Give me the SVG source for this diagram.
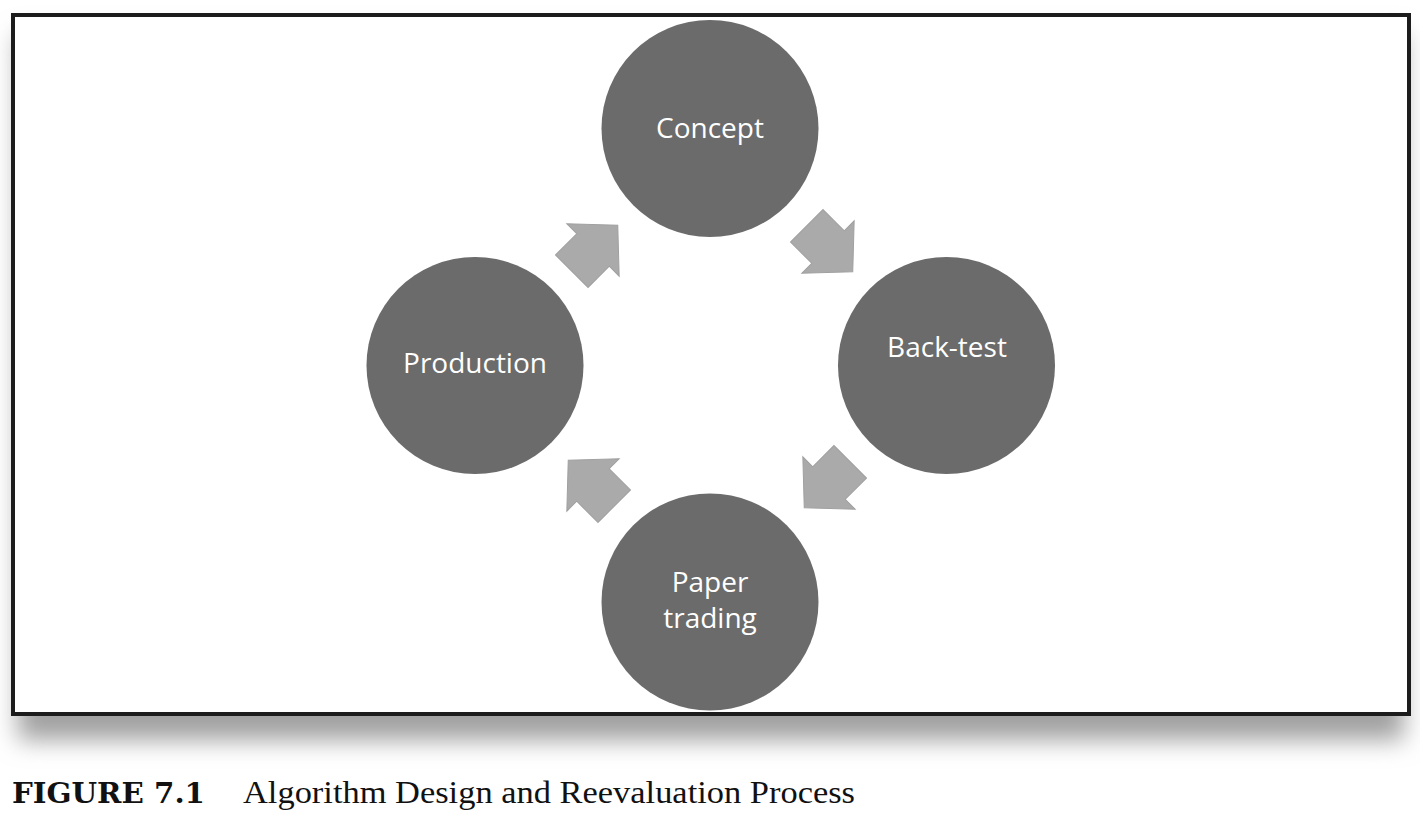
<svg xmlns="http://www.w3.org/2000/svg" width="1420" height="814" viewBox="0 0 1420 814">
  <defs>
    <filter id="shadow" x="-10%" y="-10%" width="120%" height="130%">
      <feGaussianBlur stdDeviation="12"/>
    </filter>
    <path id="arrow" d="M -30,-23 L 0,-23 L 0,-37 L 35,0 L 0,37 L 0,23 L -30,23 Z"/>
  </defs>
  <style>
    .node circle { fill: #6b6b6b; }
    .node text { fill: #ffffff; font-family: "Open Sans", "Liberation Sans", sans-serif; font-size: 28px; text-anchor: middle; }
    .arr { fill: #aaaaaa; stroke: #a0a0a0; stroke-width: 1; }
    .cap { fill: #111111; }
  </style>
  <rect width="1420" height="814" fill="#ffffff"/>
  <g id="frame">
    <rect x="18" y="34" width="1386" height="706" fill="#a0a0a0" filter="url(#shadow)"/>
    <rect x="13" y="15" width="1396" height="699" fill="#ffffff" stroke="#1c1c1c" stroke-width="4"/>
  </g>
  <g id="connectors">
    <use href="#arrow" class="arr" transform="translate(593,250) rotate(-45)"/>
    <use href="#arrow" class="arr" transform="translate(828,247) rotate(45)"/>
    <use href="#arrow" class="arr" transform="translate(829,483) rotate(135)"/>
    <use href="#arrow" class="arr" transform="translate(593,485) rotate(225)"/>
  </g>
  <g id="concept" class="node">
    <circle cx="710" cy="128.5" r="108.5"/>
    <text x="710" y="138">Concept</text>
  </g>
  <g id="backtest" class="node">
    <circle cx="946.5" cy="365.5" r="108.5"/>
    <text x="947" y="357">Back-test</text>
  </g>
  <g id="papertrading" class="node">
    <circle cx="710" cy="602" r="108.5"/>
    <text x="710" y="592">Paper</text>
    <text x="710" y="628">trading</text>
  </g>
  <g id="production" class="node">
    <circle cx="475" cy="365.5" r="108.5"/>
    <text x="475" y="373">Production</text>
  </g>
  <g id="caption">
    <text x="12" y="803" class="cap" font-family="'DejaVu Serif', 'Liberation Serif', serif" font-weight="bold" font-size="28" textLength="193" lengthAdjust="spacingAndGlyphs">FIGURE 7.1</text>
    <text x="243" y="803" class="cap" font-family="'Liberation Serif', 'DejaVu Serif', serif" font-size="31" textLength="612" lengthAdjust="spacingAndGlyphs">Algorithm Design and Reevaluation Process</text>
  </g>
</svg>
